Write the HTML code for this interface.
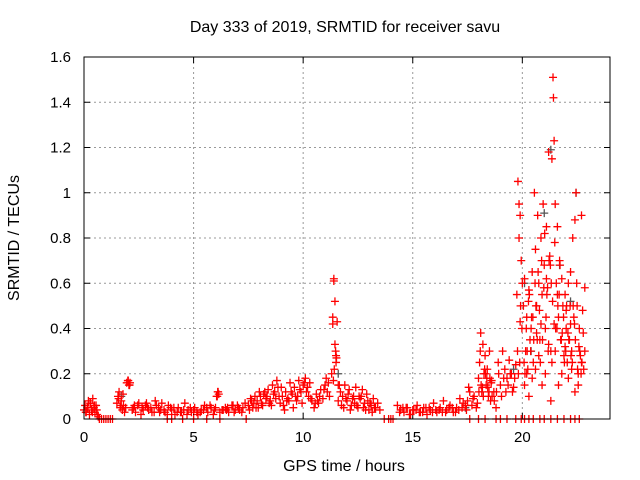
<!DOCTYPE html>
<html><head><meta charset="utf-8"><style>
body{margin:0;background:#fff;}
svg{display:block;font-family:"Liberation Sans",sans-serif;}
</style></head><body>
<svg id="chart" width="640" height="480" viewBox="0 0 640 480">
<text x="345" y="32" font-size="16" text-anchor="middle">Day 333 of 2019, SRMTID for receiver savu</text>
<text x="0" y="0" font-size="16" text-anchor="middle" transform="translate(19,238) rotate(-90)">SRMTID / TECUs</text>
<text x="344" y="471" font-size="16" text-anchor="middle">GPS time / hours</text>
<g id="grid"></g>
<g id="ticks"></g>
<g id="marks"></g>
<rect x="84" y="57" width="526" height="362" fill="none" stroke="#000" stroke-width="1"/>
</svg>
<script>
const xTicks=[0,5,10,15,20];
const yTicks=[0,0.2,0.4,0.6,0.8,1,1.2,1.4,1.6];
const yTickLabels=["0","0.2","0.4","0.6","0.8","1","1.2","1.4","1.6"];
const times=[0,0.05,0.1,0.15,0.2,0.25,0.3,0.35,0.4,0.45,0.5,0.55,0.6,0.65,
0.7,0.8,0.9,1.0,1.1,1.2,1.3,
1.5,1.55,1.6,1.65,1.7,1.75,1.8,1.85,1.9,
1.95,2.0,2.05,2.1,
2.2,2.35,2.5,2.65,2.8,2.95,3.1,3.25,3.4,3.55,3.7,3.85,4.0,4.15,4.3,4.45,4.6,4.75,4.9,5.05,5.2,5.35,5.5,5.65,5.8,5.95,6.05,6.1,6.15,6.3,6.45,6.6,6.75,6.9,7.05,7.2,7.35,
2.3,2.6,2.9,3.2,3.5,3.8,4.1,4.4,4.7,5.0,5.3,5.6,5.9,6.2,6.5,6.8,7.1,
2.25,2.45,2.7,2.85,3.05,3.3,3.45,3.65,3.95,4.25,4.55,4.85,5.15,5.45,5.75,6.0,6.35,6.55,6.85,7.0,7.25,
0.08,0.18,0.28,0.38,0.48,0.58,1.58,1.68,1.78,2.02,2.08,6.08,6.12,
3.8,4.0,4.5,5.0,5.6,6.2,7.4,
7.5,7.6,7.7,7.8,7.9,8.0,8.1,8.2,8.3,8.4,8.5,8.6,8.7,8.8,8.9,9.0,9.1,9.2,9.3,9.4,9.5,9.6,9.7,9.8,9.9,10.0,
7.55,7.75,7.95,8.15,8.35,8.55,8.75,8.95,9.15,9.35,9.55,9.75,9.95,
7.65,7.85,8.05,8.25,8.45,8.65,8.85,9.05,9.25,9.45,9.65,9.85,10.05,
10.1,10.2,10.3,10.4,10.5,10.6,10.7,10.8,10.9,11.0,11.1,11.2,
10.15,10.35,10.55,10.75,10.95,11.15,10.25,10.65,11.05,
11.3,11.35,11.35,11.4,11.4,11.45,11.45,11.5,11.5,11.55,11.6,11.6,11.42,11.48,11.52,11.38,
11.7,11.8,11.9,12.0,12.1,12.2,12.3,12.4,12.5,12.6,12.7,12.8,12.9,13.0,13.1,13.2,13.3,13.4,13.5,
11.75,11.95,12.15,12.35,12.55,12.75,12.95,13.15,11.65,11.85,12.05,12.25,12.45,12.65,12.85,13.05,13.25,
13.7,13.9,14.0,14.1,
14.3,14.45,14.6,14.75,14.9,15.05,15.2,15.35,15.5,15.65,15.8,15.95,16.1,16.25,16.4,16.55,16.7,16.85,17.0,17.15,17.3,17.45,
14.4,14.7,15.0,15.3,15.6,15.9,16.2,16.5,16.8,17.1,17.4,14.55,14.85,15.15,15.45,15.75,16.05,16.35,16.65,16.95,17.25,
17.5,17.6,17.7,17.8,17.9,17.55,17.75,17.95,
18.0,18.05,18.1,18.15,18.2,18.25,18.3,18.35,18.4,18.45,18.5,18.55,18.6,18.7,18.8,18.9,19.0,19.1,19.2,19.3,19.4,19.5,19.6,19.7,
18.02,18.12,18.22,18.32,18.42,18.52,18.62,18.72,18.82,18.92,19.05,19.15,19.25,19.35,19.45,19.55,19.65,18.08,18.18,18.28,18.38,18.48,18.58,
19.75,19.8,19.85,19.9,19.95,20.0,19.9,19.85,19.78,19.82,19.88,19.92,19.98,
20.05,20.1,20.15,20.2,20.25,20.3,20.35,20.4,20.45,20.5,20.55,20.6,20.65,20.7,20.75,20.8,20.85,20.9,20.95,21.0,21.05,21.1,21.15,21.2,21.25,21.3,21.35,21.4,21.42,21.45,21.5,21.55,21.6,21.65,21.7,21.75,21.8,21.85,21.9,21.95,22.0,22.05,22.1,22.15,22.2,22.25,22.3,22.35,22.4,22.45,22.5,22.55,22.6,22.65,22.7,22.75,22.8,22.85,
20.1,20.2,20.3,20.45,20.6,20.75,20.9,21.05,21.2,21.35,21.5,21.65,21.8,21.95,22.1,22.25,22.4,22.55,22.7,22.85,21.3,21.45,21.6,21.1,20.85,20.65,22.2,22.0,
20.08,20.18,20.28,20.38,20.48,20.58,20.68,20.78,20.88,20.98,21.08,21.18,21.28,21.38,21.48,21.58,21.68,21.78,21.88,21.98,22.08,22.18,22.28,22.38,22.48,22.58,22.68,22.78,
20.12,20.22,20.32,20.42,20.52,20.62,20.72,20.82,20.92,21.02,21.12,21.22,21.32,21.52,21.62,21.72,21.82,21.92,22.02,22.12,22.22,22.32,22.42,22.52,22.62,22.72,
17.6,18.0,18.3,18.8,19.0,19.3,19.7,19.95,20.1,20.3,20.5,20.8,21.0,21.3,21.6,21.9,22.2,22.4,22.6];
const tecu=[.04,.06,.03,.05,.08,.02,.07,.04,.09,.05,.03,.06,.02,.01,
0,0,0,0,0,0,0,
.07,.1,.12,.05,.08,.04,.06,.03,.05,
.16,.17,.15,.16,
.04,.03,.07,.05,.06,.04,.03,.08,.05,.07,.03,.06,.04,.02,.05,.03,.07,.04,.03,.05,.02,.04,.06,.03,.05,.04,.1,.12,.11,.04,.05,.03,.06,.04,.05,.03,.07,
.06,.02,.05,.03,.04,.02,.05,.03,.02,.04,.03,.05,.02,.03,.04,.06,.04,
.05,.06,.04,.07,.05,.06,.03,.04,.05,.03,.04,.05,.03,.04,.06,.05,.04,.05,.03,.06,.05,
.03,.05,.07,.03,.06,.04,.09,.06,.11,.17,.15,.1,.12,
0,0,0,0,0,0,0,
.06,.09,.05,.1,.08,.12,.07,.11,.09,.13,.08,.15,.12,.17,.1,.14,.06,.12,.09,.16,.11,.14,.08,.17,.12,.15,
.04,.07,.05,.06,.1,.06,.09,.07,.04,.08,.05,.1,.07,
.08,.05,.1,.12,.07,.11,.14,.1,.08,.12,.1,.13,.16,
.18,.14,.16,.08,.05,.11,.07,.13,.09,.15,.12,.1,
.12,.09,.07,.1,.13,.16,.1,.08,.18,
.2,.42,.45,.62,.61,.33,.52,.28,.25,.43,.15,.08,.22,.3,.27,.17,
.12,.1,.15,.08,.13,.06,.1,.14,.05,.09,.13,.07,.11,.04,.06,.09,.05,.07,.04,
.06,.09,.04,.07,.1,.05,.08,.03,.15,.05,.11,.09,.06,.1,.04,.07,.05,
0,0,0,0,
.06,.04,.03,.05,.02,.04,.06,.03,.05,.02,.04,.07,.03,.05,.08,.04,.06,.03,.05,.09,.07,.04,
.03,.05,.04,.03,.05,.03,.04,.03,.05,.04,.06,.05,.02,.04,.03,.05,.04,.03,.05,.03,.05,
.08,.12,.06,.1,.05,.14,.09,.07,
.18,.25,.38,.12,.33,.2,.28,.15,.22,.1,.3,.08,.17,.12,.05,.25,.15,.3,.22,.18,.26,.2,.14,.24,
.12,.15,.1,.2,.14,.18,.1,.08,.12,.2,.1,.18,.12,.15,.2,.12,.18,.3,.14,.22,.18,.12,.16,
.55,1.05,.95,.9,.7,.6,.43,.8,.3,.2,.25,.5,.4,
.5,.62,.3,.45,.22,.57,.35,.4,.65,.25,1.0,.75,.5,.9,.6,.35,.8,.55,.95,.68,.4,.85,.58,1.18,.72,.3,1.15,1.51,1.42,1.23,.95,.6,.85,.45,.7,.35,.62,.5,.28,.55,.4,.25,.6,.35,.65,.3,.8,.45,.88,1.0,.5,.2,.4,.28,.9,.48,.22,.58,
.15,.2,.1,.18,.22,.28,.15,.2,.33,.25,.3,.15,.2,.32,.18,.22,.12,.15,.25,.3,.08,.42,.55,.62,.42,.38,.42,.48,
.25,.4,.52,.3,.45,.6,.35,.48,.7,.58,.45,.3,.68,.52,.78,.4,.55,.35,.45,.3,.38,.5,.25,.42,.6,.32,.2,.38,
.2,.3,.55,.45,.35,.5,.65,.25,.35,.82,.55,.7,.6,.4,.5,.68,.38,.25,.5,.35,.28,.5,.35,.22,.3,.25,
0,0,0,0,0,0,0,0,0,0,0,0,0,0,0,0,0,0,0];
const greyTimes=[1.7,11.6,17.4,19.6,20.1,21.0,21.3,22.45,20.4,21.7,22.2];
const greyVals=[.1,.2,.05,.22,.6,.91,1.19,1.0,.3,.68,.52];

const X0=84,X1=610,Y0=419,Y1=57,XMAX=24,YMAX=1.6;
const xs=t=>X0+(X1-X0)*t/XMAX;
const ys=v=>Y0-(Y0-Y1)*v/YMAX;
const NS="http://www.w3.org/2000/svg";
function mk(tag,attrs,parent){const e=document.createElementNS(NS,tag);for(const k in attrs)e.setAttribute(k,attrs[k]);parent.appendChild(e);return e;}
const grid=document.getElementById('grid'),ticks=document.getElementById('ticks'),marks=document.getElementById('marks');
xTicks.forEach(t=>{
  const x=xs(t);
  if(t>0){const g=mk('line',{x1:x,x2:x,y1:Y0,y2:Y1,stroke:'#999','stroke-dasharray':'2,3'},grid);
  
  }
  mk('line',{x1:x,x2:x,y1:Y0,y2:Y0-6,stroke:'#000'},ticks);
  mk('line',{x1:x,x2:x,y1:Y1,y2:Y1+6,stroke:'#000'},ticks);
  const l=mk('text',{x:x,y:Y0+23,'font-size':15,'text-anchor':'middle'},ticks);
  l.textContent=t;
  
  
});
yTicks.forEach((v,i)=>{
  const y=ys(v);
  if(v>0&&v<YMAX){const g=mk('line',{x1:X0,x2:X1,y1:y,y2:y,stroke:'#999','stroke-dasharray':'2,3'},grid);
  
  }
  mk('line',{x1:X0,x2:X0+6,y1:y,y2:y,stroke:'#000'},ticks);
  mk('line',{x1:X1,x2:X1-6,y1:y,y2:y,stroke:'#000'},ticks);
  const l=mk('text',{x:X0-13,y:y+5,'font-size':15,'text-anchor':'end'},ticks);
  l.textContent=yTickLabels[i];
  
  
});
function plus(t,v,col){
  const x=xs(t),y=ys(v);
  const p=mk('path',{d:`M${x-4},${y}H${x+4}M${x},${y-4}V${y+4}`,stroke:col,'stroke-width':1.3,fill:'none'},marks);
  
  
}
greyTimes.forEach((t,i)=>plus(t,greyVals[i],'#555'));
times.forEach((t,i)=>plus(t,tecu[i],'#f00'));
</script>
</body></html>
